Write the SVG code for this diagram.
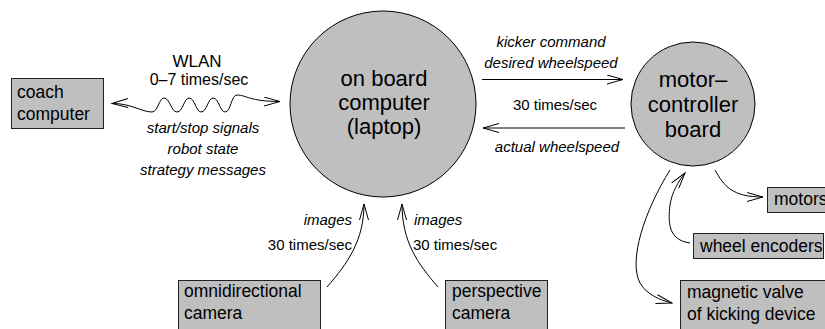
<svg xmlns="http://www.w3.org/2000/svg" width="825" height="329" viewBox="0 0 825 329">
  <style>
    .circ { fill: #bfbfbf; stroke: #000; stroke-width: 1; }
    .box { fill: #bfbfbf; stroke: #222; stroke-width: 1; }
    .big { font-family: "Liberation Sans", Arial, sans-serif; font-size: 22px; fill: #000; text-anchor: middle; }
    .lbl { font-family: "Liberation Sans", Arial, sans-serif; font-size: 17.5px; fill: #000; }
    .cap { font-family: "Liberation Sans", Arial, sans-serif; font-size: 15px; fill: #000; }
    .it { font-style: italic; }
    .mid { text-anchor: middle; }
    .end { text-anchor: end; }
    .wire { fill: none; stroke: #000; stroke-width: 1; marker-end: url(#open); }
  </style>
  <defs>
    <marker id="open" viewBox="0 0 18 10" markerUnits="userSpaceOnUse" markerWidth="18" markerHeight="10" refX="16.5" refY="5" orient="auto-start-reverse">
      <path d="M0.5,0.5 L16.5,5 L0.5,9.5" fill="none" stroke="#000" stroke-width="1"/>
    </marker>
  </defs>
  <rect width="825" height="329" fill="#fff"/>

  <g id="connectors">
    <!-- radio link, arrows both ways -->
    <path class="wire" style="marker-start:url(#open)" d="M112,103.5 C130,103 142,112 152,112 C158,112 159,98 164,98 C170,98 171,112 177,112 C183,112 184,98 189,98 C195,98 196,112 201,112 C207,112 208,98 213,98 C219,98 220,112 225,112 C231,112 231,95 237,95 C246,95 250,101.5 280,101.5"/>
    <path class="wire" d="M482,79.5 L623,79.5"/>
    <path class="wire" d="M625,128 L483,128"/>
    <path class="wire" d="M327,287 C348,263 364,240 364,204"/>
    <path class="wire" d="M438,287 C418,264 402,242 402,204"/>
    <path class="wire" d="M715,170 C724,186 732,197 763,197"/>
    <path class="wire" d="M690,243 C668,240 668,222 670,205 C672,192 678,182 685,173"/>
    <path class="wire" d="M670,170 C645,210 628,260 640,283 C647,295 660,300 672,303"/>
  </g>

  <g id="link-labels">
    <text class="lbl mid" x="197" y="67" style="font-size:17px">WLAN</text>
    <text class="cap mid" x="199" y="85" style="font-size:16px">0–7 times/sec</text>
    <text class="cap it mid" x="203" y="133">start/stop signals</text>
    <text class="cap it mid" x="203" y="154">robot state</text>
    <text class="cap it mid" x="203" y="175">strategy messages</text>
    <text class="cap it mid" x="551" y="47">kicker command</text>
    <text class="cap it mid" x="551" y="68">desired wheelspeed</text>
    <text class="cap mid" x="555" y="110">30 times/sec</text>
    <text class="cap it mid" x="557" y="152">actual wheelspeed</text>
    <text class="cap it end" x="352" y="225">images</text>
    <text class="cap end" x="352" y="250">30 times/sec</text>
    <text class="cap it" x="414" y="225">images</text>
    <text class="cap" x="413" y="250">30 times/sec</text>
  </g>

  <g id="laptop">
    <circle class="circ" cx="383" cy="104" r="93"/>
    <text class="big" x="384" y="86">on board</text>
    <text class="big" x="384" y="110">computer</text>
    <text class="big" x="384" y="134">(laptop)</text>
  </g>

  <g id="motor-controller">
    <circle class="circ" cx="693" cy="104" r="62"/>
    <text class="big" x="693" y="87">motor–</text>
    <text class="big" x="693" y="112">controller</text>
    <text class="big" x="693" y="137">board</text>
  </g>

  <g id="coach">
    <rect class="box" x="11.5" y="78.5" width="92" height="50"/>
    <text class="lbl" x="17" y="98">coach</text>
    <text class="lbl" x="17" y="120">computer</text>
  </g>

  <g id="omni-camera">
    <rect class="box" x="178.5" y="280.5" width="142" height="60"/>
    <text class="lbl" x="184" y="297">omnidirectional</text>
    <text class="lbl" x="184" y="319">camera</text>
  </g>

  <g id="persp-camera">
    <rect class="box" x="445.5" y="280.5" width="102" height="60"/>
    <text class="lbl" x="452" y="297">perspective</text>
    <text class="lbl" x="452" y="319">camera</text>
  </g>

  <g id="motors">
    <rect class="box" x="767.5" y="187.5" width="70" height="25"/>
    <text class="lbl" x="774" y="205">motors</text>
  </g>

  <g id="encoders">
    <rect class="box" x="693.5" y="233.5" width="130" height="25"/>
    <text class="lbl" x="700" y="252">wheel encoders</text>
  </g>

  <g id="valve">
    <rect class="box" x="680.5" y="280.5" width="160" height="60"/>
    <text class="lbl" x="687" y="298">magnetic valve</text>
    <text class="lbl" x="687" y="320">of kicking device</text>
  </g>
</svg>
